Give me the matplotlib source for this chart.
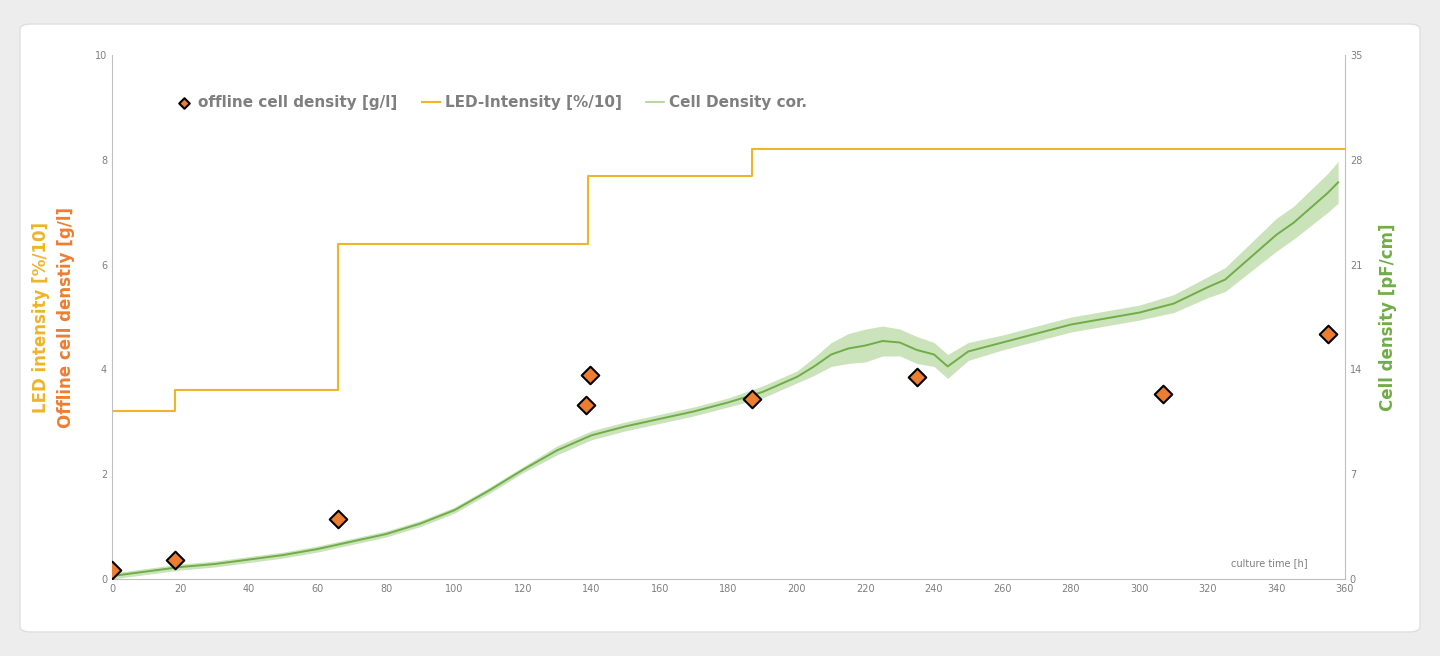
import matplotlib.pyplot as plt
from matplotlib.patches import FancyBboxPatch

# ==========================================
# Data
# ==========================================

offline_time = [0, 18.5, 66, 138.5, 139.5, 187, 235, 307, 355]
offline_density = [0.18, 0.37, 1.15, 3.33, 3.90, 3.43, 3.85, 3.53, 4.67]

led_time = [0, 18.5, 18.5, 66, 66, 139, 139, 187, 187, 360]
led_value = [3.2, 3.2, 3.6, 3.6, 6.4, 6.4, 7.7, 7.7, 8.2, 8.2]

cd_time = [0, 10, 20, 30, 40, 50, 60, 70, 80, 90, 100, 110, 120, 130, 140,
           150, 160, 170, 180, 190, 200, 205, 210, 215, 220, 225, 230, 235,
           240, 244, 250, 260, 270, 280, 290, 300, 310, 320, 325, 330, 335,
           340, 345, 350, 355, 358]
cd_value = [0.2, 0.5, 0.8, 1.0, 1.3, 1.6, 2.0, 2.5, 3.0, 3.7, 4.6, 5.9, 7.3,
            8.6, 9.6, 10.2, 10.7, 11.2, 11.8, 12.5, 13.5, 14.2, 15.0, 15.4,
            15.6, 15.9, 15.8, 15.3, 15.0, 14.2, 15.2, 15.8, 16.4, 17.0, 17.4,
            17.8, 18.4, 19.5, 20.0, 21.0, 22.0, 23.0, 23.8, 24.8, 25.8, 26.5]
cd_noise = [0.2, 0.2, 0.2, 0.2, 0.2, 0.2, 0.2, 0.2, 0.2, 0.2, 0.2, 0.2, 0.2,
            0.3, 0.3, 0.3, 0.3, 0.3, 0.3, 0.4, 0.4, 0.6, 0.8, 1.0, 1.1, 1.0,
            0.9, 0.9, 0.8, 0.8, 0.6, 0.5, 0.5, 0.5, 0.5, 0.5, 0.6, 0.7, 0.8,
            0.9, 1.0, 1.1, 1.1, 1.2, 1.3, 1.4]

ORANGE = "#f0b429"
DARK_ORANGE = "#ed7d31"
GREEN = "#70ad47"
GREY = "#7f7f7f"

# ==========================================
# Figure + card background
# ==========================================

fig = plt.figure(figsize=(14.4, 6.56), dpi=100)
fig.patch.set_facecolor("#ededed")
card = FancyBboxPatch((20 / 1440, 24 / 656), 1400 / 1440, 608 / 656,
                      boxstyle="round,pad=0,rounding_size=0.008",
                      transform=fig.transFigure, facecolor="white",
                      edgecolor="#e0e0e0", zorder=-10)
fig.patches.append(card)

ax = fig.add_axes([0.0778, 0.1174, 0.8562, 0.7986])
ax.patch.set_visible(False)
ax2 = ax.twinx()
ax2.patch.set_visible(False)
ax.set_zorder(2)
ax2.set_zorder(1)

# Cell density on the right axis
lower = [v - n for v, n in zip(cd_value, cd_noise)]
upper = [v + n for v, n in zip(cd_value, cd_noise)]
ax2.fill_between(cd_time, lower, upper, color="#a9d18e", alpha=0.6, lw=0)
ax2.plot(cd_time, cd_value, color=GREEN, lw=1.4)
ax2.set_ylim(0, 35)
ax2.set_yticks(range(0, 36, 7))

# LED intensity and offline density on the left axis
ax.plot(led_time, led_value, color=ORANGE, lw=1.5, label="LED-Intensity [%/10]")
ax.scatter(offline_time, offline_density, marker="D", s=80, color=DARK_ORANGE,
           edgecolor="black", linewidth=1.5, zorder=5,
           label="offline cell density [g/l]")
ax.plot([], [], color="#a9d18e", lw=1.2, label="Cell Density cor.")

ax.set_xlim(0, 360)
ax.set_ylim(0, 10)
ax.set_xticks(range(0, 361, 20))
ax.set_yticks(range(0, 11, 2))

for a in (ax, ax2):
    for side in ("top", "right", "left", "bottom"):
        a.spines[side].set_visible(False)
    a.tick_params(length=0, labelsize=7, colors=GREY)
ax.spines["left"].set_visible(True)
ax.spines["bottom"].set_visible(True)
ax2.spines["right"].set_visible(True)
for s in (ax.spines["left"], ax.spines["bottom"], ax2.spines["right"]):
    s.set_color("#bfbfbf")

ax.text(-0.05, 0.5, "LED intensity [%/10]", color=ORANGE, rotation=90,
        transform=ax.transAxes, ha="right", va="center", fontsize=12,
        fontweight="bold")
ax.text(-0.03, 0.5, "Offline cell denstiy [g/l]", color=DARK_ORANGE,
        rotation=90, transform=ax.transAxes, ha="right", va="center",
        fontsize=12, fontweight="bold")
ax2.set_ylabel("Cell density [pF/cm]", color=GREEN, fontsize=12,
               fontweight="bold", labelpad=12)
ax.text(0.97, 0.025, "culture time [h]", transform=ax.transAxes, ha="right",
        fontsize=7, color=GREY)

handles, labels = ax.get_legend_handles_labels()
order = [1, 0, 2]
leg = ax.legend([handles[i] for i in order], [labels[i] for i in order],
                loc="upper left", bbox_to_anchor=(0.04, 0.95), ncol=3,
                frameon=False, labelcolor=GREY, handlelength=1.2,
                handletextpad=0.3, columnspacing=1.6, markerscale=0.6,
                prop={"weight": "bold", "size": 11})

fig.savefig("out.png", dpi=100)
